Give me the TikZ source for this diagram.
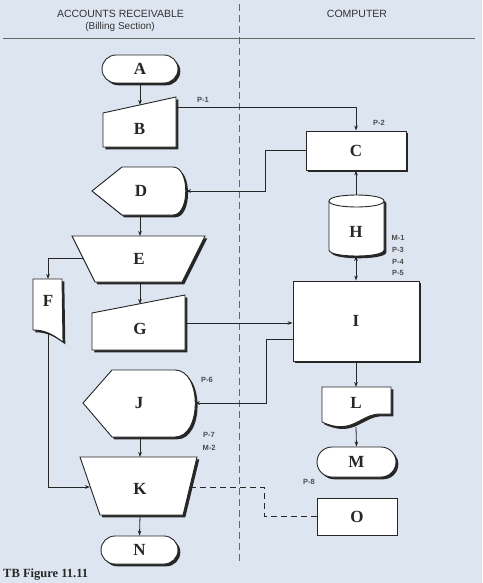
\documentclass[tikz,border=0pt]{standalone}
\usepackage{fontspec}
\setmainfont{Liberation Serif}
\newfontfamily\hdrfont{Liberation Sans}
\usetikzlibrary{shadows,arrows.meta,calc}
\definecolor{bgblue}{RGB}{221,229,241}
\definecolor{ink}{RGB}{38,38,38}
\begin{document}
\begin{tikzpicture}[x=1pt,y=-1pt,
  shp/.style={draw=ink, line width=0.9pt, fill=white,
    drop shadow={shadow xshift=2.3pt, shadow yshift=-2.3pt, opacity=1, fill=black!85}},
  plainbox/.style={draw=ink, line width=0.9pt, fill=white},
  lbl/.style={font=\fontsize{17}{17}\selectfont\bfseries, text=ink, inner sep=0pt},
  tag/.style={font=\hdrfont\fontsize{7.5}{8}\selectfont\bfseries, text=black!70, inner sep=0pt},
  hdr/.style={font=\hdrfont\fontsize{10.5}{11}\selectfont, text=black!80, inner sep=0pt},
  conn/.style={draw=ink, line width=0.8pt},
  arr/.style={conn, -{Stealth[length=5pt,width=3.6pt]}},
  term/.style={shp, lbl, rounded corners=14pt, minimum height=28pt},
  boxnode/.style={shp, lbl}
]
\useasboundingbox (0,0) rectangle (482,583);
\fill[bgblue] (0,0) rectangle (482,583);

% header
\node[hdr] (hAR) at (120.5,14) {ACCOUNTS RECEIVABLE};
\node[hdr, font=\hdrfont\fontsize{10}{11}\selectfont] (hBS) at (120,26.5) {(Billing Section)};
\node[hdr] (hCO) at (357,14) {COMPUTER};
\draw[black!60, line width=1pt] (3,39) -- (475,39);
\draw[black!60, line width=0.9pt, dash pattern=on 7pt off 4pt] (239,4) -- (239,562);

% A
\node[term, minimum width=76pt] (A) at (140,69) {A};
% B manual input
\draw[shp] (103,113) -- (176,97) -- (176,147) -- (103,147) -- cycle;
\node[lbl] (B) at (139.5,129) {B};
\coordinate (Bin) at (140,105);
\coordinate (Bout) at (176,107);
% C
\node[boxnode, minimum width=100pt, minimum height=39pt] (C) at (356,150.5) {C};
% D display
\draw[shp] (92,191) -- (122,167) -- (173,167) .. controls (190,167) and (190,215) .. (173,215) -- (122,215) -- cycle;
\node[lbl] (D) at (141,191) {D};
\coordinate (Dright) at (186,191);
\coordinate (Dbot) at (140,215);
% E manual operation
\draw[shp] (72,236) -- (205,236) -- (182,282) -- (95,282) -- cycle;
\node[lbl] (E) at (139,259) {E};
\coordinate (Etop) at (140,236);
\coordinate (Eleft) at (83,258);
\coordinate (Ebot) at (140,282);
% F document
\draw[shp] (33,279) -- (62,279) -- (63,342) .. controls (52,334) and (45,330) .. (33,330) -- cycle;
\node[lbl] (F) at (48,301) {F};
\coordinate (Ftop) at (48,279);
\coordinate (Fbot) at (48,333);
% G manual input
\draw[shp] (92,313) -- (185,295) -- (185,350) -- (92,350) -- cycle;
\node[lbl] (G) at (140,329) {G};
\coordinate (Gtop) at (140,304);
\coordinate (Gout) at (185,323);
% H disk
\draw[shp] (329,201) -- (329,250) .. controls (329,258) and (384,258) .. (384,250) -- (384,201)
  .. controls (384,193) and (329,193) .. (329,201) -- cycle;
\draw[ink, line width=0.9pt] (329,201) .. controls (329,209) and (384,209) .. (384,201);
\node[lbl] (H) at (356,232) {H};
\coordinate (Htop) at (356,195);
\coordinate (Hbot) at (356,256);
% I
\node[boxnode, minimum width=126pt, minimum height=80pt] (I) at (356,321) {I};
\coordinate (Iout) at (293,339);
% J display
\draw[shp] (83,403) -- (112,370) -- (175,370) .. controls (202,370) and (202,437) .. (175,437) -- (112,437) -- cycle;
\node[lbl] (J) at (139,403) {J};
\coordinate (Jright) at (195,403);
\coordinate (Jbot) at (140,437);
% K manual operation
\draw[shp] (80,457) -- (197,457) -- (183,515) -- (100,515) -- cycle;
\node[lbl] (K) at (140,489) {K};
\coordinate (Ktop) at (140,457);
\coordinate (Kleft) at (90,487);
\coordinate (Kright) at (190,487);
\coordinate (Kbot) at (140,515);
% L document
\draw[shp] (322,387) -- (391,387) -- (391,414) -- (380,414) .. controls (360,414) and (352,436) .. (322,422) -- cycle;
\node[lbl] (L) at (356,403) {L};
\coordinate (Ltop) at (356,387);
\coordinate (Lbot) at (356,427);
% M, N terminals
\node[term, minimum width=79pt, minimum height=30pt, rounded corners=15pt] (M) at (356.5,462) {M};
\node[term, minimum width=77pt] (N) at (139.5,550) {N};
% O
\node[plainbox, lbl, minimum width=80pt, minimum height=37pt] (O) at (357,516.5) {O};

% connectors
\draw[arr] (A.south) -- (Bin);
\draw[arr] (Bout) -| (C.north);
\draw[arr] (C.west) -- ++(-40,0) |- (Dright);
\draw[arr] (Dbot) -- (Etop);
\draw[arr] (Eleft) -| (Ftop);
\draw[arr] (Ebot) -- (Gtop);
\draw[arr] (Gout) -- (Gout -| I.west);
\draw[arr] (Htop) -- (C.south);
\draw[conn, {Stealth[length=5pt,width=3.6pt]}-{Stealth[length=5pt,width=3.6pt]}] (Hbot) -- (I.north);
\draw[arr] (Iout) -- ++(-27,0) |- (Jright);
\draw[arr] (I.south) -- (Ltop);
\draw[arr] (Lbot) -- (M.north);
\draw[arr] (Jbot) -- (Ktop);
\draw[arr] (Fbot) |- (Kleft);
\draw[conn, dash pattern=on 6pt off 4pt] (Kright) -- ++(74,0) |- (O.west);
\draw[arr] (Kbot) -- (N.north);

% tags
\node[tag] (p1) at (203,100) {P-1};
\node[tag] (p2) at (379,123) {P-2};
\node[tag] (m1) at (398,238) {M-1};
\node[tag] (p3) at (398,249.5) {P-3};
\node[tag] (p4) at (398,261.5) {P-4};
\node[tag] (p5) at (398,273) {P-5};
\node[tag] (p6) at (207,380) {P-6};
\node[tag] (p7) at (209,435) {P-7};
\node[tag] (m2) at (209,448) {M-2};
\node[tag] (p8) at (309,482) {P-8};

% caption
\node[anchor=west, inner sep=0pt, font=\fontsize{12.5}{13}\selectfont\bfseries, text=ink] (cap) at (3,575) {TB Figure 11.11};
\end{tikzpicture}
\end{document}
